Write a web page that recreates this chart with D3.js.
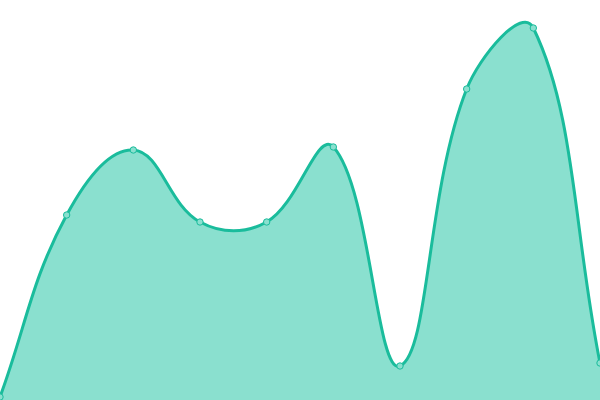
<!DOCTYPE html>
<html>
<head>
<meta charset="utf-8">
<script src="https://cdn.jsdelivr.net/npm/d3@7"></script>
<style>
  body { margin: 0; background: #fff; }
  svg { display: block; }
</style>
</head>
<body>
<script>
// values
var categories = [0, 1, 2, 3, 4, 5, 6, 7, 8, 9];
var values = [3, 185, 250, 178, 178, 253, 34, 311, 372, 37];

var width = 600, height = 400;
var tension = 0.4;

// spline with control points weighted by distance to the neighbours
function spline(context) { return new Spline(context); }
function Spline(context) { this._context = context; }
Spline.prototype = {
  areaStart: function() { this._line = 0; },
  areaEnd: function() { this._line = NaN; },
  lineStart: function() { this._x = []; this._y = []; },
  point: function(x, y) { this._x.push(+x); this._y.push(+y); },
  lineEnd: function() {
    var x = this._x, y = this._y, n = x.length, c = this._context;
    if (n) {
      if (this._line) c.lineTo(x[0], y[0]); else c.moveTo(x[0], y[0]);
      var cp = [];
      for (var i = 0; i < n; i++) {
        var p = Math.max(0, i - 1), q = Math.min(n - 1, i + 1);
        var d01 = Math.hypot(x[i] - x[p], y[i] - y[p]);
        var d12 = Math.hypot(x[q] - x[i], y[q] - y[i]);
        var s01 = d01 / (d01 + d12), s12 = d12 / (d01 + d12);
        if (isNaN(s01)) s01 = 0;
        if (isNaN(s12)) s12 = 0;
        var fa = tension * s01, fb = tension * s12;
        var dx = x[q] - x[p], dy = y[q] - y[p];
        cp.push({
          px: clamp(x[i] - fa * dx, 0, width), py: clamp(y[i] - fa * dy, 0, height),
          nx: clamp(x[i] + fb * dx, 0, width), ny: clamp(y[i] + fb * dy, 0, height)
        });
      }
      for (var j = 1; j < n; j++) {
        c.bezierCurveTo(cp[j - 1].nx, cp[j - 1].ny, cp[j].px, cp[j].py, x[j], y[j]);
      }
    }
    if (this._line || (this._line !== 0 && n === 1)) c.closePath();
    this._line = 1 - this._line;
  }
};
function clamp(v, lo, hi) { return Math.max(lo, Math.min(hi, v)); }

var svg = d3.select("body").append("svg")
    .attr("width", width).attr("height", height);

var xscale = d3.scaleLinear()
    .domain([0, categories.length - 1])
    .range([0, width]);
var yscale = d3.scaleLinear()
    .domain([0, 400])
    .range([height, 0]);

var area = d3.area()
    .x(function(d, i) { return xscale(categories[i]); })
    .y0(height)
    .y1(function(d) { return yscale(d); })
    .curve(spline);

var line = d3.line()
    .x(function(d, i) { return xscale(categories[i]); })
    .y(function(d) { return yscale(d); })
    .curve(spline);

svg.append("path").datum(values)
    .attr("d", area)
    .attr("fill", "#8ae0cf");

svg.append("path").datum(values)
    .attr("d", line)
    .attr("fill", "none")
    .attr("stroke", "#1abc9c")
    .attr("stroke-width", 3);

svg.selectAll("circle").data(values)
  .enter().append("circle")
    .attr("cx", function(d, i) { return xscale(categories[i]); })
    .attr("cy", function(d) { return yscale(d); })
    .attr("r", 3.2)
    .attr("fill", "#8ae0cf")
    .attr("stroke", "#1abc9c")
    .attr("stroke-width", 1);
</script>
</body>
</html>
